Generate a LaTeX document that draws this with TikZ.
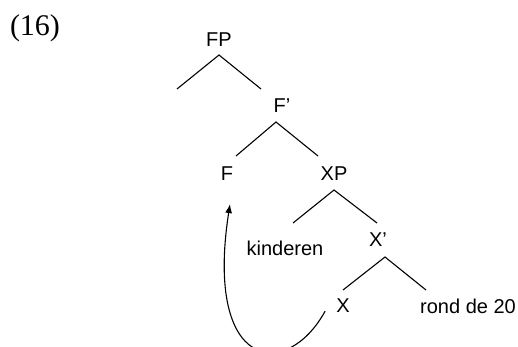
\documentclass[tikz,border=0pt]{standalone}
\usepackage{fontspec}
\setmainfont{Liberation Serif}
\setsansfont{Liberation Sans}
\usetikzlibrary{arrows.meta}
\tikzset{cat/.style={font=\sffamily\fontsize{20}{20}\selectfont,inner sep=0pt},
         branch/.style={line width=1.1pt},
         move/.style={line width=1.1pt,-{Latex[length=9pt,width=7pt]}},
        }

\begin{document}
\begin{tikzpicture}[x=1pt,y=-1pt]
        \useasboundingbox(0,0)rectangle(518,347);
        \node[font=\fontsize{30}{30}\selectfont](ex)at(35,28){(16)};
        \node[cat](fp)at(219,40){FP};
        \node[cat](fbar)at(282,106){F’};
        \node[cat](f)at(227,174){F};
        \node[cat](xp)at(334,174){XP};
        \node[cat](kind)at(285,248){kinderen};
        \node[cat](xbar)at(378,240){X’};
        \node[cat](x)at(343,306){X};
        \node[cat](rond)at(468,306){rond de 20};

        \coordinate(fp-l)at(177,89);
        \coordinate(fp-r)at(261,89);
        \coordinate(fbar-l)at(236,156);
        \coordinate(fbar-r)at(318,156);
        \coordinate(xp-l)at(293,223);
        \coordinate(xp-r)at(377,223);
        \coordinate(xbar-l)at(343,290);
        \coordinate(xbar-r)at(426,290);

        \draw[branch](fp-l)--([yshift=-15pt]fp.center)--(fp-r);
        \draw[branch](fbar-l)--([shift={(-6pt,-16pt)}]fbar.center)--(fbar-r);
        \draw[branch](xp-l)--([yshift=-16pt]xp.center)--(xp-r);
        \draw[branch](xbar-l)--([shift={(7pt,-17pt)}]xbar.center)--(xbar-r);
        \draw[move]([shift={(-11pt,2pt)}]x.south west)..controls(287,381)and(204,372)..([shift={(3pt,-23pt)}]f.south);
    \end{tikzpicture}
\end{document}
